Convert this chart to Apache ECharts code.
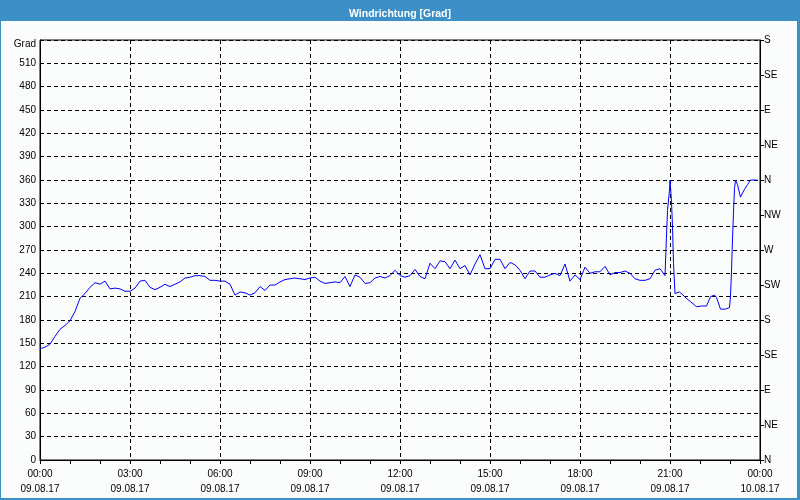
<!DOCTYPE html>
<html><head><meta charset="utf-8">
<script src="https://cdn.jsdelivr.net/npm/echarts@6/dist/echarts.min.js"></script>
<style>html,body{margin:0;padding:0;background:#fff}#c{width:800px;height:500px}</style>
</head><body><div id="c"></div>
<script>
// minutes since 09.08.17 00:00
const times = [0,10,20,30,40,50,60,70,80,90,100,110,120,130,140,150,160,170,180,190,200,210,220,230,240,250,260,270,280,290,300,310,320,330,340,350,
360,370,380,390,400,410,420,430,440,450,460,470,480,490,500,510,520,530,540,550,560,570,580,590,600,610,620,630,640,650,660,670,680,690,700,710,
720,730,740,750,760,770,780,790,800,810,820,830,840,850,860,870,880,890,900,910,920,930,940,950,960,970,980,990,1000,1010,1020,1030,1040,1050,1060,1070,
1080,1090,1100,1110,1120,1130,1140,1150,1160,1170,1180,1190,1200,1210,1220,1230,1240,1250,1252,1255,1259,1260,1263,1265,1267,1270,
1279,1286,1296,1306,1313,1323,1333,1341,1349,1353,1361,1371,1379,1381,1383,1385,1387,1389,1391,1395,1401,1408,1415,1421,1434];
// wind direction in degrees
const values = [143,145,149,159,168,173,179,191,208,214,222,228,226,230,220,221,220,217,217,221,230,231,222,219,222,226,223,226,229,234,235,237,237,236,231,231,
230,230,226,212,216,215,212,215,223,218,225,225,229,232,233,234,233,232,234,235,230,227,228,229,228,236,223,238,235,227,228,234,236,234,237,244,
237,235,237,245,236,233,253,246,256,255,246,257,246,250,238,252,264,246,246,258,258,246,254,251,244,233,243,243,235,235,238,240,237,252,230,238,
232,248,240,242,242,249,238,241,241,243,240,233,231,231,233,244,246,237,272,321,347,360,332,300,253,214,
216,212,206,201,197,198,198,210,212,209,194,194,196,211,243,284,319,349,360,354,338,347,354,360,360];
const compassLabels = ['N','NE','E','SE','S','SW','W','NW','N','NE','E','SE','S'];
const dayLabels = ['09.08.17','10.08.17'];
const titleText = 'Windrichtung [Grad]';
const unitLabel = 'Grad';

const FONT = 'Liberation Sans';
const chart = echarts.init(document.getElementById('c'), null, {renderer:'canvas'});
function pad(n){return (n<10?'0':'')+n;}
chart.setOption({
  animation:false,
  backgroundColor:'#fbfdfc',
  title:{text:titleText,left:'center',top:4,textStyle:{color:'#fff',fontSize:10.5,fontWeight:'bold',fontFamily:FONT}},
  graphic:[
    {type:'rect',left:0,top:0,z:-1,shape:{width:800,height:21},style:{fill:'#3c8fc7'}},
    {type:'rect',left:0,top:0,shape:{width:1,height:500},style:{fill:'#3c8fc7'}},
    {type:'rect',left:797,top:0,shape:{width:3,height:500},style:{fill:'#3c8fc7'}},
    {type:'rect',left:0,top:498,shape:{width:800,height:2},style:{fill:'#3c8fc7'}}
  ],
  grid:{left:40,right:40,top:40,bottom:40,show:true,borderColor:'#000',borderWidth:1,backgroundColor:'transparent'},
  xAxis:{type:'value',min:0,max:1440,interval:180,
    axisLine:{lineStyle:{color:'#000',width:1}},
    axisTick:{show:true,length:4,lineStyle:{color:'#000'}},
    minorTick:{show:true,splitNumber:3,length:4,lineStyle:{color:'#000'}},
    splitLine:{show:true,lineStyle:{color:'#000',type:[4,3],width:1}},
    axisLabel:{color:'#000',fontSize:10,fontFamily:FONT,lineHeight:15,margin:7,
      formatter:function(v){const d=Math.floor(v/1440);const m=v%1440;return pad(Math.floor(m/60))+':'+pad(m%60)+'\n'+dayLabels[d];}}
  },
  yAxis:[
    {type:'value',position:'left',min:0,max:540,interval:30,
      axisLine:{show:true,lineStyle:{color:'#000'}},axisTick:{show:false},
      splitLine:{show:true,lineStyle:{color:'#000',type:[4,3],width:1}},
      axisLabel:{color:'#000',fontSize:10,fontFamily:FONT,margin:4,
        formatter:function(v){return v===540?'{g|'+unitLabel+'}':String(v);},
        rich:{g:{fontSize:10,fontFamily:FONT,color:'#000',padding:[8,0,0,0]}}}
    },
    {type:'value',position:'right',min:0,max:540,interval:45,
      axisLine:{show:true,lineStyle:{color:'#000'}},
      axisTick:{show:true,length:4,lineStyle:{color:'#000'}},
      splitLine:{show:false},
      axisLabel:{color:'#000',fontSize:10,fontFamily:FONT,margin:4,padding:[2,0,0,0],
        formatter:function(v){return compassLabels[Math.round(v/45)];}}
    }
  ],
  series:[{type:'line',yAxisIndex:0,showSymbol:false,symbol:'none',
    data:times.map(function(t,i){return [t,values[i]];}),
    lineStyle:{color:'#0000ff',width:1}}]
});
</script></body></html>
